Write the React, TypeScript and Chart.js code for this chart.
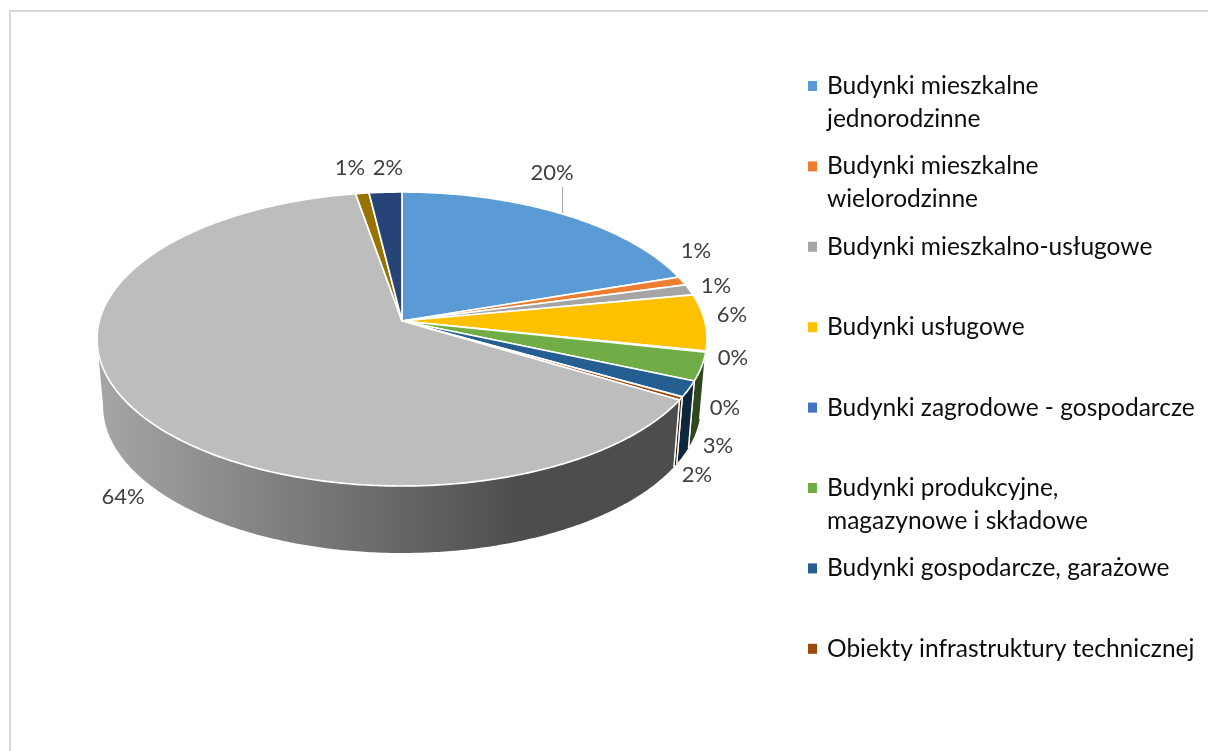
import React, { useEffect, useRef } from "react";
import { Chart, registerables } from "chart.js";

Chart.register(...registerables);

// Share of each building category, in percent.
const categories = [
  "Budynki mieszkalne jednorodzinne",
  "Budynki mieszkalne wielorodzinne",
  "Budynki mieszkalno-usługowe",
  "Budynki usługowe",
  "Budynki zagrodowe - gospodarcze",
  "Budynki produkcyjne, magazynowe i składowe",
  "Budynki gospodarcze, garażowe",
  "Obiekty infrastruktury technicznej",
  "Pozostałe budynki",
  "Pozostałe obiekty",
  "Inne",
];
const shares = [19.9, 0.95, 1.2, 6.2, 0.1, 3.1, 1.75, 0.35, 63.7, 0.8, 1.95];
const sliceColors = [
  "#5B9BD5", "#ED7D31", "#A5A5A5", "#FFC000", "#4472C4", "#70AD47",
  "#255E91", "#9E480E", "#BDBDBD", "#997300", "#264478",
];

// Legend rows: the wrapped text of the entries that are listed.
const legendLines = [
  ["Budynki mieszkalne", "jednorodzinne"],
  ["Budynki mieszkalne", "wielorodzinne"],
  ["Budynki mieszkalno-usługowe"],
  ["Budynki usługowe"],
  ["Budynki zagrodowe - gospodarcze"],
  ["Budynki produkcyjne,", "magazynowe i składowe"],
  ["Budynki gospodarcze, garażowe"],
  ["Obiekty infrastruktury technicznej"],
];

// Hand-placed centres of the percentage labels, one per slice.
const labelCenters: [number, number][] = [
  [552, 173], [696, 251], [716, 286], [732, 315], [733, 358], [718, 446],
  [697, 475], [725, 408], [123, 497], [350, 168], [388, 168],
];

const FONT = "Lato, Carlito, sans-serif";

// Perspective of the tilted disc: where its centre lands and how it foreshortens.
const CX = 402;
const CY = 321;
const RX = 302.7;
const RY = 144.8;
const K = 0.1224;
const DEPTH = 67;
const BASE_SHRINK = 0.98;

// Part of the rim that faces the viewer, in radians clockwise from 3 o'clock.
const WALL_FROM = 0.21;
const WALL_TO = Math.PI - Math.asin(K);

function topPoint(angle: number): [number, number] {
  const u = Math.cos(angle);
  const v = Math.sin(angle);
  const w = 1 - K * v;
  return [CX + (RX * u) / w, CY + (RY * v) / w];
}

function basePoint(angle: number): [number, number] {
  const [x, y] = topPoint(angle);
  return [CX + (x - CX) * BASE_SHRINK, y + DEPTH];
}

function shade(hex: string, factor: number): string {
  const n = parseInt(hex.slice(1), 16);
  const c = [(n >> 16) & 255, (n >> 8) & 255, n & 255].map((v) => Math.round(v * factor));
  return `rgb(${c[0]},${c[1]},${c[2]})`;
}

function sampleAngles(start: number, end: number): number[] {
  const steps = Math.max(2, Math.ceil((end - start) / 0.01));
  const out: number[] = [];
  for (let i = 0; i <= steps; i++) out.push(start + ((end - start) * i) / steps);
  return out;
}

const tiltedPie = {
  id: "tiltedPie",
  beforeDraw(chart: Chart) {
    const { ctx } = chart;
    ctx.save();
    ctx.fillStyle = "#ffffff";
    ctx.fillRect(0, 0, chart.width, chart.height);
    ctx.fillStyle = "#D9D9D9";
    ctx.fillRect(9, 10, chart.width - 9, 2);
    ctx.fillRect(9, 10, 2, chart.height - 10);
    ctx.restore();
  },
  // The library has worked out each slice's angles; they are projected here.
  beforeDatasetsDraw(chart: Chart) {
    const { ctx } = chart;
    const arcs = chart.getDatasetMeta(0).data as any[];
    ctx.save();

    // Side wall first, so that the top face covers its upper edge.
    arcs.forEach((arc, i) => {
      const from = Math.max(arc.startAngle, WALL_FROM);
      const to = Math.min(arc.endAngle, WALL_TO);
      if (to <= from) return;
      const angles = sampleAngles(from, to);
      const gradient = ctx.createLinearGradient(97, 0, 520, 0);
      gradient.addColorStop(0, shade(sliceColors[i], 0.88));
      gradient.addColorStop(1, shade(sliceColors[i], 0.41));
      ctx.beginPath();
      angles.forEach((a, j) => {
        const [x, y] = topPoint(a);
        if (j === 0) ctx.moveTo(x, y);
        else ctx.lineTo(x, y);
      });
      [...angles].reverse().forEach((a) => {
        const [x, y] = basePoint(a);
        ctx.lineTo(x, y);
      });
      ctx.closePath();
      ctx.fillStyle = gradient;
      ctx.fill();
      // White seams between neighbouring walls.
      ctx.strokeStyle = "#ffffff";
      ctx.lineWidth = 1.4;
      [arc.startAngle, arc.endAngle].forEach((a: number) => {
        if (a < WALL_FROM || a > WALL_TO) return;
        const [x0, y0] = topPoint(a);
        const [x1, y1] = basePoint(a);
        ctx.beginPath();
        ctx.moveTo(x0, y0);
        ctx.lineTo(x1, y1);
        ctx.stroke();
      });
    });

    // Top face.
    arcs.forEach((arc, i) => {
      const angles = sampleAngles(arc.startAngle, arc.endAngle);
      ctx.beginPath();
      ctx.moveTo(CX, CY);
      angles.forEach((a) => {
        const [x, y] = topPoint(a);
        ctx.lineTo(x, y);
      });
      ctx.closePath();
      ctx.fillStyle = sliceColors[i];
      ctx.fill();
      ctx.strokeStyle = "#ffffff";
      ctx.lineWidth = 1.7;
      ctx.lineJoin = "round";
      ctx.stroke();
    });
    ctx.restore();
    return false;
  },
  afterDraw(chart: Chart) {
    const { ctx } = chart;
    ctx.save();

    // Leader line of the largest labelled slice on the right.
    ctx.strokeStyle = "#A6A6A6";
    ctx.lineWidth = 1;
    ctx.beginPath();
    ctx.moveTo(562.5, 187);
    ctx.lineTo(562.5, 213);
    ctx.stroke();

    // Percentage labels.
    ctx.fillStyle = "#404040";
    ctx.font = `22px ${FONT}`;
    ctx.textAlign = "center";
    ctx.textBaseline = "middle";
    shares.forEach((value, i) => {
      const [x, y] = labelCenters[i];
      ctx.fillText(`${Math.round(value)}%`, x, y);
    });

    // Legend.
    ctx.textAlign = "left";
    ctx.textBaseline = "alphabetic";
    ctx.font = `24.5px ${FONT}`;
    legendLines.forEach((lines, i) => {
      const base = 94 + i * 80.4;
      ctx.fillStyle = sliceColors[i];
      ctx.fillRect(808, base - 13, 9, 10);
      ctx.fillStyle = "#0D0D0D";
      lines.forEach((line, j) => ctx.fillText(line, 827, base + j * 32.5));
    });
    ctx.restore();
  },
};

export default function App() {
  const canvasRef = useRef<HTMLCanvasElement>(null);

  useEffect(() => {
    if (!canvasRef.current) return;
    const chart = new Chart(canvasRef.current, {
      type: "pie",
      data: {
        labels: categories,
        datasets: [{ data: shares, backgroundColor: sliceColors, borderColor: "#ffffff" }],
      },
      options: {
        responsive: false,
        animation: false,
        plugins: { legend: { display: false }, tooltip: { enabled: false } },
      },
      plugins: [tiltedPie],
    });
    return () => chart.destroy();
  }, []);

  return (
    <div style={{ position: "fixed", left: 0, top: 0, width: 1208, height: 751, background: "#fff" }}>
      <canvas ref={canvasRef} width={1208} height={751} style={{ display: "block" }} />
    </div>
  );
}
